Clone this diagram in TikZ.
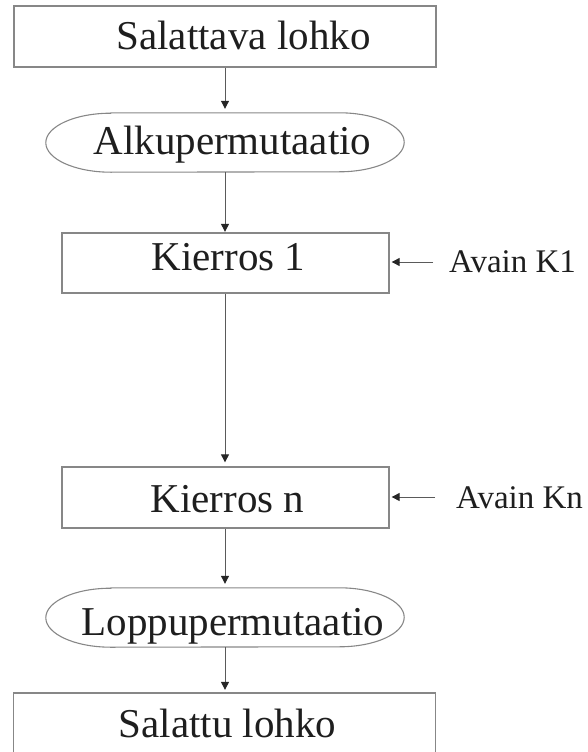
\documentclass[tikz,border=0pt]{standalone}
\usepackage{fontspec}
\setmainfont{Liberation Serif}
\usetikzlibrary{arrows.meta}
\definecolor{boxgray}{RGB}{135,135,135}
\definecolor{linegray}{RGB}{90,90,90}
\definecolor{txt}{RGB}{30,30,30}
\begin{document}
\begin{tikzpicture}[x=1pt,y=-1pt,
  bigtext/.style={font=\fontsize{41}{41}\selectfont, text=txt, inner sep=0pt, anchor=base},
  keytext/.style={font=\fontsize{33}{33}\selectfont, text=txt, inner sep=0pt, anchor=base west},
  boxnode/.style={draw=boxgray, line width=1.3pt, inner sep=0pt},
  stadium/.style={draw=none, inner sep=0pt, minimum width=358pt, minimum height=59pt},
  arr/.style={draw=linegray, line width=1pt, -{Triangle[length=8pt,width=8pt,fill=black!85,color=black!85]}},
]
\useasboundingbox (0,0) rectangle (588,752);
\clip (0,0) rectangle (588,752);

% shapes
\node[boxnode, minimum width=422pt, minimum height=61pt] (top) at (225,36.5) {};
\node[stadium] (alku) at (225,142.5) {};
\node[boxnode, minimum width=327pt, minimum height=60pt] (k1) at (225.5,263) {};
\node[boxnode, minimum width=327pt, minimum height=61pt] (kn) at (225.5,497.5) {};
\node[stadium] (loppu) at (225,617.5) {};
\node[boxnode, minimum width=422pt, minimum height=80pt] (bottom) at (224.5,733) {};

% stadium outlines
\foreach \n in {alku,loppu}{
  \draw[draw=boxgray, line width=1.1pt]
    ([xshift=65pt]\n.north west) -- ([xshift=-65pt]\n.north east)
    arc[start angle=90, end angle=-90, x radius=65pt, y radius=29.5pt]
    -- ([xshift=65pt]\n.south west)
    arc[start angle=270, end angle=90, x radius=65pt, y radius=29.5pt] -- cycle;
}

% texts
\node[bigtext] (t1) at (243.5,50) {Salattava lohko};
\node[bigtext] (t2) at (232.5,154) {Alkupermutaatio};
\node[bigtext] (t3) at (228.5,270) {Kierros 1};
\node[bigtext] (t4) at (227.5,512) {Kierros n};
\node[bigtext] (t5) at (233,635) {Loppupermutaatio};
\node[bigtext] (t6) at (227.5,737) {Salattu lohko};

% key labels
\node[keytext] (ak1) at (449,272) {Avain K1};
\node[keytext] (akn) at (456,508) {Avain Kn};
\coordinate (c1) at (433,262);
\coordinate (cn) at (435,497);

% connectors
\draw[arr, shorten >=4pt] (top.south -| alku.north) -- (alku.north);
\draw[arr, shorten >=0.5pt] (alku.south) -- (alku.south |- k1.north);
\draw[arr, shorten >=4pt] (k1.south -| alku.south) -- (alku.south |- kn.north);
\draw[arr, shorten >=4pt] (kn.south -| alku.south) -- (loppu.north);
\draw[arr, shorten >=2.5pt] (loppu.south) -- (loppu.south |- bottom.north);
\draw[arr, shorten >=2pt] (c1) -- (c1 -| k1.east);
\draw[arr, shorten >=2pt] (cn) -- (cn -| kn.east);
\end{tikzpicture}
\end{document}
